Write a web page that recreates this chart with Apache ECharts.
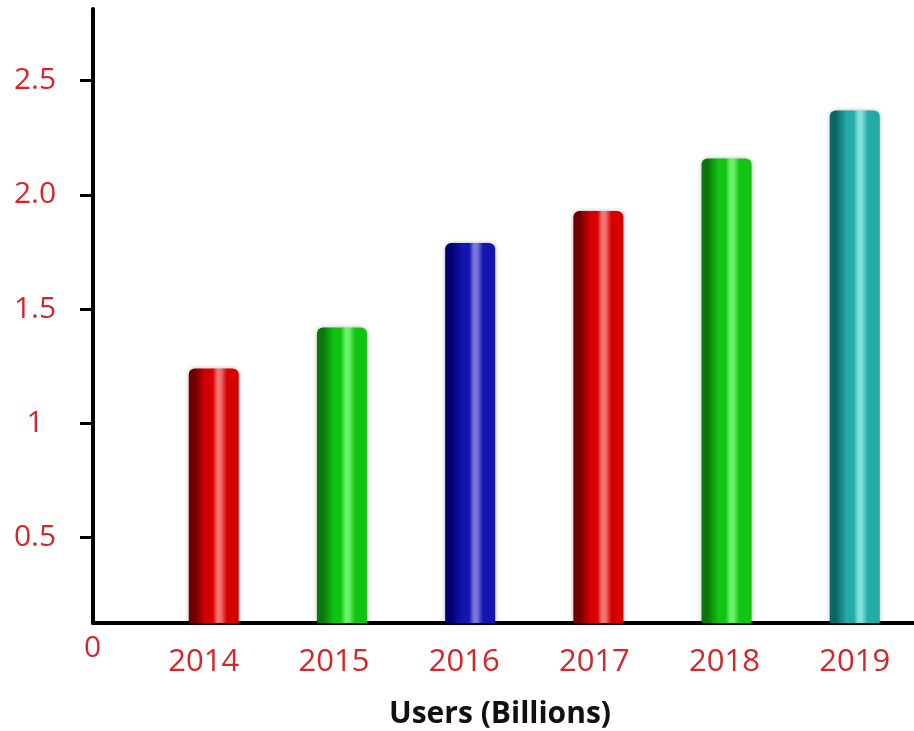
<!DOCTYPE html>
<html>
<head>
<meta charset="utf-8">
<title>Users (Billions)</title>
<script src="https://cdn.jsdelivr.net/npm/echarts@6/dist/echarts.min.js"></script>
<style>
  html, body { margin: 0; padding: 0; background: #fff; }
  #chart { width: 914px; height: 731px; }
</style>
</head>
<body>
<div id="chart"></div>
<script>
// data
var years = ['2014', '2015', '2016', '2017', '2018', '2019'];
var users = [1.24, 1.42, 1.79, 1.93, 2.16, 2.37];
var yTicks = [0.5, 1, 1.5, 2, 2.5];
var yTickLabels = ['0.5', '1', '1.5', '2.0', '2.5'];
var yZeroLabel = '0';

// cylinder shading for each bar: dark edge, body, highlight
var shades = [
  ['#6e0000', '#d60000', '#f27272'],
  ['#0a760a', '#12c412', '#6af26a'],
  ['#00006e', '#1414b0', '#7676dc'],
  ['#6e0000', '#d60000', '#f27272'],
  ['#0a760a', '#12c412', '#6af26a'],
  ['#0c6666', '#24aaa6', '#80e2de'],
];

var labelRed = '#d2282d';
var font = '"Open Sans", "DejaVu Sans", sans-serif';

function cylinder(s) {
  return new echarts.graphic.LinearGradient(0, 0, 1, 0, [
    {offset: 0, color: s[0]},
    {offset: 0.12, color: s[0]},
    {offset: 0.34, color: s[1]},
    {offset: 0.48, color: s[1]},
    {offset: 0.57, color: s[2]},
    {offset: 0.64, color: s[2]},
    {offset: 0.76, color: s[1]},
    {offset: 1, color: s[1]},
  ]);
}

var chart = echarts.init(document.getElementById('chart'));

chart.setOption({
  animation: false,
  grid: {left: 93, right: 0, top: 9, bottom: 108},
  title: {
    text: 'Users (Billions)',
    left: 495,
    top: 694,
    textAlign: 'center',
    textStyle: {fontFamily: font, fontSize: 30, fontWeight: 'bold', color: '#111'},
  },
  xAxis: [
    {
      // positions of the bars
      type: 'value',
      min: -0.942,
      max: 5.462,
      axisLine: {show: true, onZero: false, lineStyle: {color: '#000', width: 4}},
      axisTick: {show: false},
      axisLabel: {show: false},
      splitLine: {show: false},
    },
    {
      // year labels, set a little to the left of the bars
      type: 'value',
      position: 'bottom',
      min: -0.851,
      max: 5.455,
      axisLine: {show: false},
      axisTick: {show: false},
      splitLine: {show: false},
      axisLabel: {
        customValues: [0, 1, 2, 3, 4, 5],
        formatter: function (v) {
          return years[Math.round(v)];
        },
        margin: 24,
        color: labelRed,
        fontFamily: font,
        fontSize: 31,
      },
    },
  ],
  yAxis: {
    type: 'value',
    min: 0.126,
    max: 2.814,
    axisLine: {show: true, onZero: false, lineStyle: {color: '#000', width: 4}},
    axisTick: {
      show: true,
      inside: false,
      customValues: yTicks,
      length: 13,
      lineStyle: {color: '#000', width: 3},
    },
    splitLine: {show: false},
    axisLabel: {
      customValues: yTicks,
      formatter: function (v) {
        for (var i = 0; i < yTicks.length; i++) {
          if (Math.abs(yTicks[i] - v) < 1e-6) return yTickLabels[i];
        }
        return '';
      },
      align: 'center',
      margin: 58,
      color: labelRed,
      fontFamily: font,
      fontSize: 30,
    },
  },
  graphic: [
    {
      type: 'text',
      left: 84,
      top: 633,
      style: {text: yZeroLabel, fill: labelRed, font: '30px ' + font},
    },
  ],
  series: [
    {
      type: 'bar',
      xAxisIndex: 0,
      barWidth: 50,
      data: users.map(function (v, i) {
        return {
          value: [i, v],
          itemStyle: {
            color: cylinder(shades[i]),
            borderRadius: [6, 6, 0, 0],
            shadowBlur: 4,
            shadowColor: 'rgba(0,0,0,0.3)',
          },
        };
      }),
    },
  ],
});
</script>
</body>
</html>
